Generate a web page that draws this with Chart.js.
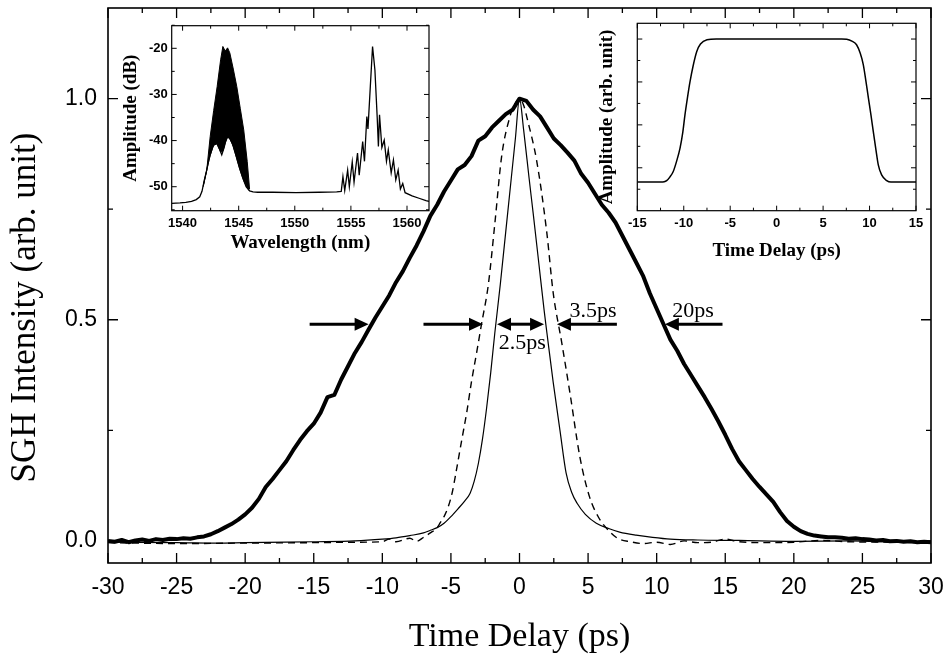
<!DOCTYPE html>
<html>
<head>
<meta charset="utf-8">
<script src="https://cdn.jsdelivr.net/npm/chart.js@4/dist/chart.umd.min.js"></script>
<style>
  html, body { margin: 0; padding: 0; background: #fff; }
  #wrap { position: relative; width: 949px; height: 663px; }
  canvas { position: absolute; }
  #main { left: 0; top: 0; }
  #spec { left: 115px; top: 15px; }
  #pulse { left: 590px; top: 10px; }
</style>
</head>
<body>
<div id="wrap">
  <canvas id="main" width="949" height="663"></canvas>
  <canvas id="spec" width="325" height="245"></canvas>
  <canvas id="pulse" width="345" height="255"></canvas>
</div>
<script>
// ---- main plot: SGH traces ----
const thickX = [-30,-29.5,-29,-28.5,-28,-27.5,-27,-26.5,-26,-25.5,-25,-24.5,-24,-23.5,-23,-22.5,-22,-21.5,-21,-20.5,
  -20,-19.5,-19,-18.5,-18,-17.5,-17,-16.5,-16,-15.5,-15,-14.5,-14,-13.5,-13,-12.5,-12,-11.5,-11,-10.5,
  -10,-9.5,-9,-8.5,-8,-7.5,-7,-6.5,-6,-5.5,-5,-4.5,-4,-3.5,-3,-2.5,-2,-1.5,-1,-0.5,
  0,0.5,1,1.5,2,2.5,3,3.5,4,4.5,5,5.5,6,6.5,7,7.5,8,8.5,9,9.5,
  10,10.5,11,11.5,12,12.5,13,13.5,14,14.5,15,15.5,16,16.5,17,17.5,18,18.5,19,19.5,
  20,20.5,21,21.5,22,22.5,23,23.5,24,24.5,25,25.5,26,26.5,27,27.5,28,28.5,29,29.5,30];
const thickY = [0.000,-0.002,0.002,-0.003,0.001,0.003,0.000,0.004,0.002,0.005,0.004,0.006,0.005,0.008,0.010,0.015,0.022,0.030,0.038,0.048,
  0.060,0.075,0.095,0.122,0.140,0.160,0.180,0.205,0.228,0.248,0.265,0.290,0.325,0.330,0.365,0.395,0.425,0.450,0.478,0.505,
  0.530,0.555,0.585,0.610,0.640,0.668,0.700,0.735,0.760,0.790,0.815,0.840,0.850,0.870,0.905,0.915,0.935,0.950,0.965,0.975,
  1.000,0.995,0.975,0.960,0.935,0.910,0.895,0.878,0.860,0.830,0.810,0.785,0.760,0.742,0.720,0.690,0.660,0.630,0.600,0.560,
  0.525,0.490,0.455,0.430,0.400,0.375,0.350,0.325,0.298,0.270,0.240,0.208,0.180,0.160,0.140,0.122,0.105,0.088,0.065,0.045,
  0.032,0.022,0.016,0.012,0.010,0.008,0.008,0.007,0.005,0.006,0.004,0.003,0.001,0.002,-0.001,0.000,-0.002,-0.001,-0.003,-0.002,-0.003];

const solidX = [-30,-25,-22,-20,-17,-15,-12,-10,-9,-8,-7,-6.5,-6,-5.5,-5,-4.5,-4,-3.6,-3.3,-3,-2.7,-2.4,-2.1,-1.8,-1.4,-1,-0.6,-0.3,
  0,0.3,0.7,1,1.4,1.8,2,2.45,2.95,3.4,3.8,4.2,4.8,5.6,6.5,7.3,8.5,9.7,11,13,16,20,24,27,30];
const solidY = [-0.003,-0.004,-0.005,-0.004,-0.003,-0.002,0.000,0.004,0.007,0.012,0.018,0.024,0.030,0.040,0.055,0.072,0.090,0.108,0.135,0.175,0.230,0.300,0.380,0.470,0.580,0.700,0.820,0.910,
  1.000,0.930,0.820,0.740,0.630,0.520,0.470,0.360,0.250,0.153,0.110,0.085,0.060,0.040,0.028,0.020,0.013,0.008,0.004,0.002,0.001,-0.001,0.000,-0.002,-0.002];

const dashX = [-30,-25,-20,-15,-12,-10,-9.5,-9,-8,-7.5,-7,-6.5,-6,-5.8,-5.5,-5.2,-4.9,-4.6,-4.2,-3.85,-3.5,-3.1,-2.77,-2.27,-1.79,-1.3,-0.69,-0.3,
  0,0.3,0.6,1.25,1.98,2.46,3.07,3.7,4.4,5.1,5.75,6.6,7.2,8.1,9,10,11,12,13,14,15,16,18,20,22,24,27,30];
const dashY = [-0.004,-0.006,-0.005,-0.004,-0.003,-0.002,0.004,-0.002,0.006,-0.001,0.008,0.018,0.030,0.040,0.055,0.077,0.110,0.160,0.230,0.290,0.360,0.430,0.490,0.580,0.720,0.870,0.960,0.990,
  1.000,0.985,0.950,0.860,0.700,0.560,0.450,0.330,0.190,0.100,0.054,0.020,0.005,-0.002,-0.006,-0.003,-0.008,0.000,-0.004,-0.003,0.004,-0.002,-0.004,-0.003,0.001,-0.002,-0.003,-0.004];

const mainXTicks = [-30,-25,-20,-15,-10,-5,0,5,10,15,20,25,30];
const mainYTicks = [0, 0.5, 1.0];

// width markers (data units)
const arrowTails = [-15.3, -7.0, 7.1, 14.8];
const arrowTips = [-11.0, -2.66, 2.73, 10.6];
const arrowLevel = 0.49;
const spanEnds = [-1.64, 1.79];
const widthLabels = ['2.5ps', '3.5ps', '20ps'];
const widthLabelX = [0.2, 5.36, 12.65];
const widthLabelY = [0.447, 0.52, 0.52];

// ---- inset 1: spectrum ----
const specLam = [1539.04,1539.77,1540.29,1540.80,1541.22,1541.53,1541.73,1541.94,1542.15,1542.35,1542.66,1542.97,1543.28,1543.49,1543.70,1543.90,1544.11,1544.42,1544.73,1545.04,1545.35,1545.66,1545.97,1546.28,1546.70,
  1548.04,1550.11,1552.17,1553.73,1554.14,1554.29,1554.45,1554.71,1554.86,1555.12,1555.28,1555.59,1555.74,1556.05,1556.21,1556.42,1556.52,1556.73,1556.93,1557.14,
  1557.34,1557.45,1557.55,1557.76,1557.97,1558.17,1558.33,1558.59,1558.79,1559.00,1559.21,1559.41,1559.62,1559.83,1560.45,1561.07,1561.69,1561.96];
const specDb = [-53.6,-53.5,-53.4,-53.2,-52.8,-52.2,-51.0,-48.5,-46.4,-44.0,-41.5,-40.2,-41.8,-43.1,-41.5,-39.5,-39.1,-40.5,-43.0,-45.7,-48.0,-50.0,-50.9,-51.1,-51.2,
  -51.2,-51.3,-51.2,-51.1,-51.0,-47.8,-50.8,-46.4,-50.0,-44.6,-49.0,-42.7,-47.5,-40.2,-44.5,-34.8,-37.5,-28.3,-19.6,-24.7,
  -34.8,-41.3,-34.4,-41.5,-39.9,-44.5,-42.0,-47.0,-44.2,-48.5,-46.4,-50.5,-49.3,-51.3,-52.0,-52.5,-53.0,-53.2];
const bandLam = [1541.84,1542.15,1542.46,1542.77,1543.08,1543.39,1543.59,1543.80,1544.01,1544.21,1544.52,1544.83,1545.14,1545.45,1545.76,1545.97];
const bandTop = [-50.0,-46.5,-39.1,-33.5,-28.3,-22.5,-19.6,-20.6,-19.9,-21.0,-24.5,-28.3,-33.0,-37.7,-44.5,-50.5];
const bandBottom = [-49.8,-46.4,-43.2,-41.0,-40.7,-42.5,-42.3,-40.5,-39.3,-39.6,-41.3,-43.9,-46.5,-48.7,-50.3,-50.9];
const specXTicks = [1540,1545,1550,1555,1560];
const specYTicks = [-50,-40,-30,-20];

// ---- inset 2: pump pulse ----
const pulseT = [-15,-12.5,-12.1,-11.84,-11.5,-11.13,-10.75,-10.4,-10.1,-9.87,-9.6,-9.33,-9.0,-8.6,-8.2,-7.5,-6.5,0,
  7.0,7.54,8.1,8.6,9.0,9.33,9.6,9.87,10.15,10.4,10.7,10.94,11.3,11.85,12.3,15];
const pulseA = [0,0,0.002,0.010,0.035,0.074,0.150,0.238,0.350,0.470,0.590,0.700,0.810,0.913,0.965,0.995,1.0,1.0,
  1.0,0.998,0.985,0.960,0.900,0.820,0.710,0.590,0.470,0.354,0.220,0.120,0.050,0.010,0.0,0];
const pulseXTicks = [-15,-10,-5,0,5,10,15];
const pulseYTicks = [0.1,0.4,0.7,1.0];

const pts = (xs, ys) => xs.map((x, i) => ({ x: x, y: ys[i] }));
const fixTicks = list => scale => { scale.ticks = list.map(v => ({ value: v })); };
const noPad = size => scale => {
  if (scale.isHorizontal()) scale.height = size; else scale.width = size;
  scale.paddingLeft = scale.paddingRight = scale.paddingTop = scale.paddingBottom = 0;
};

// box + inward ticks on all four sides, minor ticks halfway
const framePlugin = {
  id: 'frame',
  afterDatasetsDraw(chart, args, opts) {
    const { ctx, chartArea: a } = chart;
    ctx.save();
    ctx.strokeStyle = '#000';
    ctx.lineWidth = opts.lineWidth;
    ctx.strokeRect(a.left, a.top, a.right - a.left, a.bottom - a.top);
    ctx.lineWidth = opts.tickWidth;
    ctx.beginPath();
    for (const id of ['x', 'y']) {
      const s = chart.scales[id];
      const major = s.ticks.map(t => t.value);
      const half = (major[1] - major[0]) / 2;
      const minor = [major[0] - half].concat(major.map(v => v + half));
      const mark = (v, len) => {
        const p = s.getPixelForValue(v);
        if (s.isHorizontal()) {
          if (p < a.left - 0.5 || p > a.right + 0.5) return;
          ctx.moveTo(p, a.bottom); ctx.lineTo(p, a.bottom - len);
          ctx.moveTo(p, a.top); ctx.lineTo(p, a.top + len);
        } else {
          if (p < a.top - 0.5 || p > a.bottom + 0.5) return;
          ctx.moveTo(a.left, p); ctx.lineTo(a.left + len, p);
          ctx.moveTo(a.right, p); ctx.lineTo(a.right - len, p);
        }
      };
      major.forEach(v => mark(v, opts.major));
      minor.forEach(v => mark(v, opts.minor));
    }
    ctx.stroke();
    ctx.restore();
  }
};

const markerPlugin = {
  id: 'markers',
  afterDatasetsDraw(chart) {
    const { ctx, scales: { x, y } } = chart;
    const head = (px, py, dir) => {
      ctx.beginPath();
      ctx.moveTo(px, py);
      ctx.lineTo(px - dir * 14, py - 6.5);
      ctx.lineTo(px - dir * 14, py + 6.5);
      ctx.closePath();
      ctx.fill();
    };
    ctx.save();
    ctx.fillStyle = '#000';
    ctx.strokeStyle = '#000';
    ctx.lineWidth = 3;
    const py = y.getPixelForValue(arrowLevel);
    arrowTails.forEach((t, i) => {
      const x0 = x.getPixelForValue(t);
      const x1 = x.getPixelForValue(arrowTips[i]);
      const dir = x1 > x0 ? 1 : -1;
      ctx.beginPath();
      ctx.moveTo(x0, py);
      ctx.lineTo(x1 - dir * 10, py);
      ctx.stroke();
      head(x1, py, dir);
    });
    const s0 = x.getPixelForValue(spanEnds[0]);
    const s1 = x.getPixelForValue(spanEnds[1]);
    ctx.beginPath();
    ctx.moveTo(s0 + 10, py);
    ctx.lineTo(s1 - 10, py);
    ctx.stroke();
    head(s0, py, -1);
    head(s1, py, 1);

    ctx.font = '22px "Liberation Serif", "Times New Roman", serif';
    ctx.textAlign = 'center';
    ctx.textBaseline = 'middle';
    widthLabels.forEach((t, i) => {
      ctx.fillText(t, x.getPixelForValue(widthLabelX[i]), y.getPixelForValue(widthLabelY[i]));
    });

    // y axis title, sits a little below the plot centre as in the figure
    const a = chart.chartArea;
    ctx.font = '35px "Liberation Serif", "Times New Roman", serif';
    ctx.translate(26, (a.top + a.bottom) / 2 + 22);
    ctx.rotate(-Math.PI / 2);
    ctx.fillText('SGH Intensity (arb. unit)', 0, 0);
    ctx.restore();
  }
};

Chart.defaults.color = '#000';
Chart.defaults.animation = false;
Chart.defaults.devicePixelRatio = 1;

const serif = '"Liberation Serif", "Times New Roman", serif';
const sans = '"Liberation Sans", Arial, sans-serif';

new Chart(document.getElementById('main'), {
  type: 'line',
  data: {
    datasets: [
      { data: pts(thickX, thickY), borderColor: '#000', borderWidth: 4, pointRadius: 0, borderJoinStyle: 'round' },
      { data: pts(solidX, solidY), borderColor: '#000', borderWidth: 1.2, pointRadius: 0, cubicInterpolationMode: 'monotone' },
      { data: pts(dashX, dashY), borderColor: '#000', borderWidth: 1.4, pointRadius: 0, borderDash: [7, 5], cubicInterpolationMode: 'monotone' }
    ]
  },
  options: {
    responsive: false,
    layout: { padding: { left: 0, top: 8, right: 18, bottom: 0 } },
    plugins: {
      legend: { display: false },
      tooltip: { enabled: false },
      frame: { lineWidth: 1.6, tickWidth: 1.3, major: 10, minor: 5 }
    },
    scales: {
      x: {
        type: 'linear', min: -30, max: 30,
        afterBuildTicks: fixTicks(mainXTicks),
        afterFit: noPad(100),
        grid: { display: false, drawTicks: false },
        border: { display: false },
        ticks: { font: { family: sans, size: 23 }, padding: 11, maxRotation: 0, callback: v => String(v) },
        title: { display: true, text: 'Time Delay (ps)', font: { family: serif, size: 34 }, padding: { top: 0, bottom: 6 } }
      },
      y: {
        type: 'linear', min: -0.05, max: 1.205,
        afterBuildTicks: fixTicks(mainYTicks),
        afterFit: noPad(108),
        grid: { display: false, drawTicks: false },
        border: { display: false },
        ticks: { font: { family: sans, size: 23 }, padding: 11, callback: v => v.toFixed(1) }
      }
    }
  },
  plugins: [framePlugin, markerPlugin]
});

new Chart(document.getElementById('spec'), {
  type: 'line',
  data: {
    datasets: [
      { data: pts(specLam, specDb), borderColor: '#000', borderWidth: 1.3, pointRadius: 0 },
      { data: pts(bandLam, bandTop), borderColor: '#000', borderWidth: 1, pointRadius: 0, fill: '+1', backgroundColor: '#000' },
      { data: pts(bandLam, bandBottom), borderColor: '#000', borderWidth: 1, pointRadius: 0 }
    ]
  },
  options: {
    responsive: false,
    layout: { padding: { left: 0, top: 10.7, right: 11, bottom: 0 } },
    plugins: {
      legend: { display: false },
      tooltip: { enabled: false },
      frame: { lineWidth: 1.2, tickWidth: 1, major: 5, minor: 3 }
    },
    scales: {
      x: {
        type: 'linear', min: 1539.03, max: 1561.96,
        afterBuildTicks: fixTicks(specXTicks),
        afterFit: noPad(49.3),
        grid: { display: false, drawTicks: false },
        border: { display: false },
        ticks: { font: { family: sans, size: 13, weight: 'bold' }, padding: 5, maxRotation: 0, callback: v => String(v) },
        title: { display: true, text: 'Wavelength (nm)', font: { family: serif, size: 19, weight: 'bold' }, padding: { top: 0, bottom: 6 } }
      },
      y: {
        type: 'linear', min: -55.2, max: -15.1,
        afterBuildTicks: fixTicks(specYTicks),
        afterFit: noPad(56.7),
        grid: { display: false, drawTicks: false },
        border: { display: false },
        ticks: { font: { family: sans, size: 13, weight: 'bold' }, padding: 4, callback: v => String(v) },
        title: { display: true, text: 'Amplitude (dB)', font: { family: serif, size: 19, weight: 'bold' }, padding: { top: 5, bottom: 0 } }
      }
    }
  },
  plugins: [framePlugin]
});

new Chart(document.getElementById('pulse'), {
  type: 'line',
  data: {
    datasets: [
      { data: pts(pulseT, pulseA), borderColor: '#000', borderWidth: 1.5, pointRadius: 0, cubicInterpolationMode: 'monotone' }
    ]
  },
  options: {
    responsive: false,
    layout: { padding: { left: 0, top: 13.3, right: 19, bottom: 0 } },
    plugins: {
      legend: { display: false },
      tooltip: { enabled: false },
      frame: { lineWidth: 1.2, tickWidth: 1, major: 5, minor: 3 }
    },
    scales: {
      x: {
        type: 'linear', min: -15, max: 15,
        afterBuildTicks: fixTicks(pulseXTicks),
        afterFit: noPad(54.3),
        grid: { display: false, drawTicks: false },
        border: { display: false },
        ticks: { font: { family: sans, size: 13, weight: 'bold' }, padding: 5, maxRotation: 0, callback: v => String(v) },
        title: { display: true, text: 'Time Delay (ps)', font: { family: serif, size: 19, weight: 'bold' }, padding: { top: 0, bottom: 3 } }
      },
      y: {
        type: 'linear', min: -0.2, max: 1.11,
        afterBuildTicks: fixTicks(pulseYTicks),
        afterFit: noPad(47.3),
        grid: { display: false, drawTicks: false },
        border: { display: false },
        ticks: { display: false },
        title: { display: true, text: 'Amplitude (arb. unit)', font: { family: serif, size: 19, weight: 'bold' }, padding: { top: 6, bottom: 0 } }
      }
    }
  },
  plugins: [framePlugin]
});
</script>
</body>
</html>
